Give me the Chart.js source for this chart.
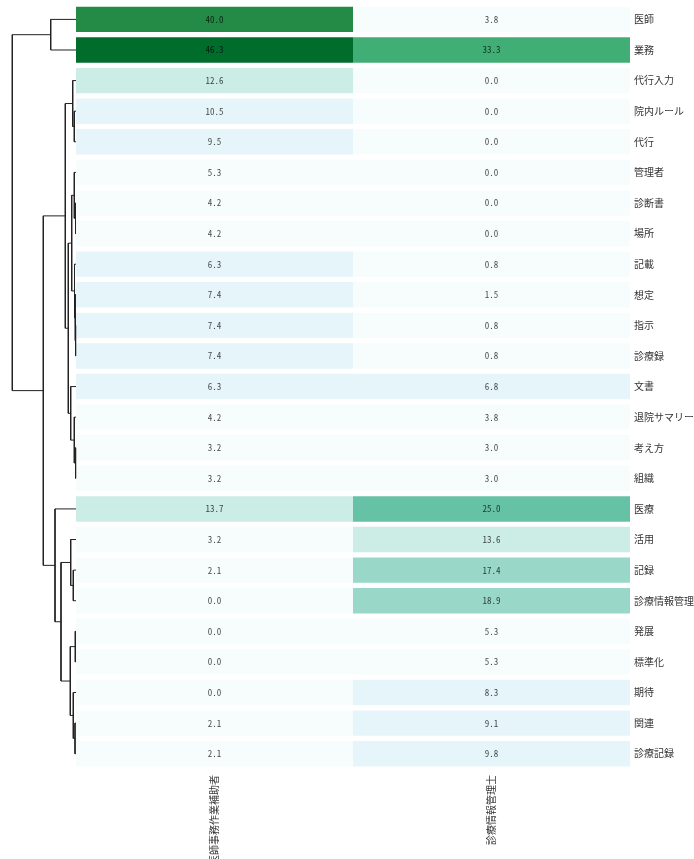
<!DOCTYPE html>
<html lang="ja">
<head>
<meta charset="utf-8">
<title>職種別キーワード出現率</title>
<script src="https://cdn.jsdelivr.net/npm/chart.js@4.4.1/dist/chart.umd.min.js"></script>
<style>
  html, body { margin: 0; padding: 0; background: #fff; }
  #wrap { position: relative; width: 694px; height: 859px; overflow: hidden; }
  #wrap canvas { position: absolute; left: 0; top: 0; }
</style>
</head>
<body>
<div id="wrap">
  <canvas id="heat" width="694" height="859"></canvas>
  <canvas id="tree" width="694" height="859"></canvas>
</div>
<script>
// Row terms in clustered (leaf) order
const terms = ['医師', '業務', '代行入力', '院内ルール', '代行', '管理者', '診断書', '場所',
  '記載', '想定', '指示', '診療録', '文書', '退院サマリー', '考え方', '組織', '医療', '活用',
  '記録', '診療情報管理', '発展', '標準化', '期待', '関連', '診療記録'];

// Column headers
const colLabels = ['医師事務作業補助者', '診療情報管理士'];

// Share (%) of each term per occupation
const assistantPct = [40.0, 46.3, 12.6, 10.5, 9.5, 5.3, 4.2, 4.2, 6.3, 7.4, 7.4, 7.4, 6.3,
  4.2, 3.2, 3.2, 13.7, 3.2, 2.1, 0.0, 0.0, 0.0, 0.0, 2.1, 2.1];
const recorderPct = [3.8, 33.3, 0.0, 0.0, 0.0, 0.0, 0.0, 0.0, 0.8, 1.5, 0.8, 0.8, 6.8,
  3.8, 3.0, 3.0, 25.0, 13.6, 17.4, 18.9, 5.3, 5.3, 8.3, 9.1, 9.8];

// Row linkage: [childA, childB, distance]; ids < 25 are leaves, others are earlier merges (25 + k)
const linkage = [
  [6, 7, 0.5], [10, 11, 0.4], [14, 15, 0.4], [20, 21, 0.7], [3, 4, 1.7],
  [5, 25, 1.7], [9, 26, 1.0], [8, 31, 1.5], [13, 27, 1.7], [23, 24, 1.0],
  [18, 19, 2.7], [22, 34, 2.7], [2, 29, 3.3], [30, 32, 4.3], [12, 33, 5.3],
  [17, 35, 5.3], [28, 36, 5.7], [38, 39, 7.7], [37, 42, 10.7], [40, 41, 15.0],
  [16, 44, 21.0], [0, 1, 25.3], [43, 45, 32.7], [46, 47, 63.7]
];

const palette = ['#f7fcfd', '#e5f5f9', '#ccece6', '#99d8c9', '#66c2a4', '#41ae76', '#238b45', '#006d2c', '#00441b'];
const vmax = Math.max(...assistantPct, ...recorderPct);
const step = vmax / 8;
function cellColor(v) {
  return palette[Math.min(7, Math.floor(v / step + 1e-9))];
}

Chart.defaults.animation = false;
const labelFont = { family: '"Noto Sans CJK JP", "Noto Sans", sans-serif', size: 10 };
const valueFont = '9px "Noto Sans Mono CJK JP", "Noto Sans CJK JP", sans-serif';

const GRID_TOP = 4.1;
const GRID_LEFT = 76;
const LABEL_W = 64;
const FOOT_H = 90;

// Writes each cell's value in its centre
const cellValues = {
  id: 'cellValues',
  afterDatasetsDraw(chart) {
    const ctx = chart.ctx;
    ctx.save();
    ctx.font = valueFont;
    ctx.fillStyle = 'rgba(0,0,0,0.72)';
    ctx.textAlign = 'center';
    ctx.textBaseline = 'middle';
    chart.data.datasets.forEach((ds, di) => {
      const meta = chart.getDatasetMeta(di);
      meta.data.forEach((bar, i) => {
        const cx = (bar.x + bar.base) / 2;
        ctx.fillText(ds.values[i].toFixed(1), cx, bar.y);
      });
    });
    ctx.restore();
  }
};

// Keep axis labels from pushing the grid inwards
function noPadding(s) {
  s.paddingTop = 0; s.paddingBottom = 0; s.paddingLeft = 0; s.paddingRight = 0;
}

new Chart(document.getElementById('heat'), {
  type: 'bar',
  data: {
    labels: terms,
    datasets: [
      {
        values: assistantPct,
        data: assistantPct.map(() => [0, 1]),
        backgroundColor: assistantPct.map(cellColor),
        grouped: false, barPercentage: 0.83, categoryPercentage: 1, borderWidth: 0
      },
      {
        values: recorderPct,
        data: recorderPct.map(() => [1, 2]),
        backgroundColor: recorderPct.map(cellColor),
        grouped: false, barPercentage: 0.83, categoryPercentage: 1, borderWidth: 0
      }
    ]
  },
  options: {
    responsive: false,
    indexAxis: 'y',
    layout: { padding: { left: GRID_LEFT, top: GRID_TOP, right: 0, bottom: 0 } },
    plugins: { legend: { display: false }, tooltip: { enabled: false } },
    scales: {
      x: { type: 'linear', min: 0, max: 2, display: false },
      cols: {
        type: 'category', axis: 'x', position: 'bottom', labels: colLabels, offset: true,
        grid: { display: false, drawTicks: false }, border: { display: false },
        ticks: { minRotation: 90, maxRotation: 90, padding: 6, color: '#333', font: labelFont, autoSkip: false },
        afterFit(s) { s.height = FOOT_H; noPadding(s); }
      },
      y: {
        type: 'category', position: 'right', offset: true,
        grid: { display: false, drawTicks: false }, border: { display: false },
        ticks: { padding: 4, color: '#333', font: labelFont, autoSkip: false },
        afterFit(s) { s.width = LABEL_W; noPadding(s); }
      }
    }
  },
  plugins: [cellValues]
});

// Build dendrogram links from the linkage table
const nodes = terms.map((_, i) => ({ y: i, h: 0 }));
const links = [];
linkage.forEach(([a, b, h]) => {
  const A = nodes[a], B = nodes[b];
  links.push([{ x: A.h, y: A.y }, { x: h, y: A.y }, { x: h, y: B.y }, { x: B.h, y: B.y }]);
  nodes.push({ y: (A.y + B.y) / 2, h });
});
const rootH = linkage[linkage.length - 1][2];

new Chart(document.getElementById('tree'), {
  type: 'scatter',
  data: {
    datasets: links.map(pts => ({
      data: pts, showLine: true, borderColor: '#222', borderWidth: 1,
      pointRadius: 0, fill: false, tension: 0, clip: false
    }))
  },
  options: {
    responsive: false,
    layout: { padding: { left: 12.3, right: 694 - GRID_LEFT, top: GRID_TOP, bottom: FOOT_H } },
    plugins: { legend: { display: false }, tooltip: { enabled: false } },
    scales: {
      x: { type: 'linear', min: 0, max: rootH, reverse: true, display: false },
      y: { type: 'linear', min: -0.5, max: terms.length - 0.5, reverse: true, display: false }
    }
  }
});
</script>
</body>
</html>
